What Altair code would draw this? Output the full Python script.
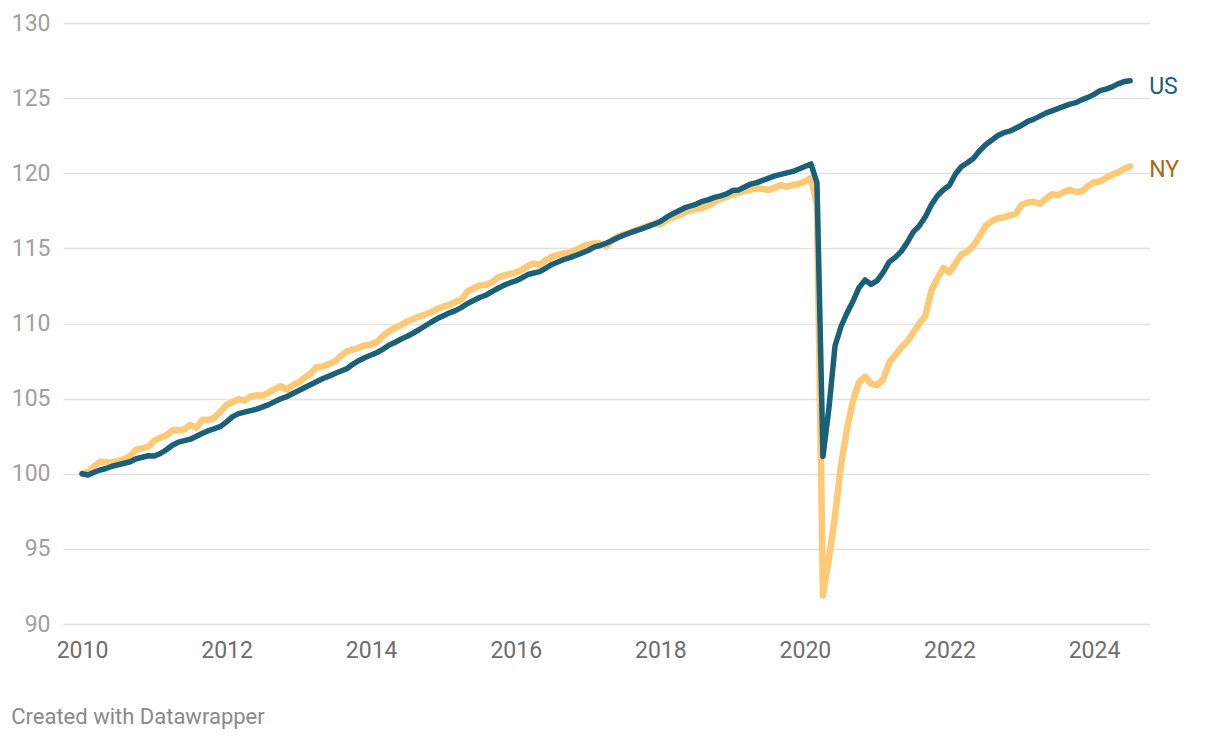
import altair as alt
import pandas as pd

years = list(range(2010, 2025))

us_values = [
    100.0, 99.92, 100.1, 100.25, 100.35, 100.5, 100.6, 100.7, 100.8, 101.0, 101.1, 101.2,
    101.18, 101.35, 101.6, 101.9, 102.1, 102.2, 102.3, 102.5, 102.7, 102.87, 103.0, 103.15,
    103.45, 103.8, 104.0, 104.1, 104.2, 104.3, 104.45, 104.6, 104.8, 104.99, 105.13, 105.34,
    105.54, 105.74, 105.94, 106.14, 106.34, 106.5, 106.67, 106.84, 107.0, 107.3, 107.54, 107.74,
    107.9, 108.07, 108.3, 108.57, 108.75, 108.97, 109.15, 109.37, 109.6, 109.85, 110.1, 110.33,
    110.52, 110.71, 110.86, 111.07, 111.33, 111.53, 111.73, 111.88, 112.1, 112.33, 112.54, 112.7,
    112.83, 113.03, 113.26, 113.36, 113.45, 113.69, 113.93, 114.09, 114.26, 114.39, 114.53, 114.69,
    114.86, 115.08, 115.19, 115.34, 115.52, 115.72, 115.89, 116.04, 116.18, 116.31, 116.46, 116.62,
    116.79, 117.06, 117.29, 117.49, 117.69, 117.82, 117.95, 118.13, 118.25, 118.39, 118.5, 118.62,
    118.85, 118.89, 119.08, 119.28, 119.38, 119.53, 119.68, 119.82, 119.92, 120.02, 120.12, 120.28,
    120.45, 120.62, 119.38, 101.15, 104.4, 108.5, 109.8, 110.7, 111.5, 112.4, 112.9, 112.6,
    112.85, 113.4, 114.1, 114.4, 114.8, 115.4, 116.1, 116.5, 117.1, 117.9, 118.5, 118.9,
    119.2, 119.95, 120.45, 120.7, 121.0, 121.5, 121.9, 122.2, 122.5, 122.7, 122.8, 123.0,
    123.2, 123.45, 123.6, 123.8, 124.0, 124.15, 124.3, 124.45, 124.6, 124.7, 124.9, 125.05,
    125.25, 125.5, 125.6, 125.75, 125.95, 126.1, 126.15,
]

ny_values = [
    100.0, 100.1, 100.5, 100.8, 100.76, 100.75, 100.85, 100.98, 101.18, 101.6, 101.7, 101.8,
    102.2, 102.4, 102.55, 102.9, 102.9, 102.95, 103.25, 103.05, 103.6, 103.58, 103.74, 104.14,
    104.58, 104.78, 104.96, 104.88, 105.14, 105.22, 105.2, 105.4, 105.64, 105.83, 105.6, 105.9,
    106.1, 106.4, 106.7, 107.1, 107.14, 107.3, 107.47, 107.84, 108.14, 108.27, 108.4, 108.54,
    108.6, 108.77, 109.18, 109.5, 109.73, 109.9, 110.15, 110.3, 110.47, 110.6, 110.77, 110.97,
    111.13, 111.24, 111.43, 111.6, 112.13, 112.33, 112.54, 112.56, 112.73, 113.06, 113.19, 113.29,
    113.39, 113.56, 113.83, 113.99, 113.89, 114.23, 114.44, 114.57, 114.67, 114.73, 114.89, 115.09,
    115.26, 115.32, 115.34, 115.13, 115.56, 115.8, 115.92, 116.06, 116.22, 116.36, 116.52, 116.62,
    116.6, 116.86, 117.05, 117.19, 117.37, 117.55, 117.62, 117.7, 117.85, 118.12, 118.29, 118.42,
    118.59, 118.71, 118.83, 118.92, 119.0, 118.95, 118.89, 119.05, 119.22, 119.1, 119.22, 119.28,
    119.45, 119.68, 117.9, 91.9, 94.4, 97.2, 100.6, 103.0, 104.9, 106.1, 106.46, 106.0,
    105.9, 106.3, 107.4, 107.9, 108.4, 108.8, 109.4, 110.0, 110.5, 112.2, 113.0, 113.7,
    113.4, 114.0, 114.6, 114.8, 115.2, 115.8, 116.5, 116.8, 117.0, 117.05, 117.2, 117.3,
    117.9, 118.05, 118.1, 117.95, 118.3, 118.6, 118.55, 118.75, 118.9, 118.75, 118.8, 119.15,
    119.4, 119.45, 119.7, 119.9, 120.05, 120.3, 120.45,
]

x_ticks = [2010, 2012, 2014, 2016, 2018, 2020, 2022, 2024]
y_ticks = [90, 95, 100, 105, 110, 115, 120, 125, 130]

US_COLOR = "#1a6079"
NY_COLOR = "#fec974"
NY_TEXT = "#a46d16"

t_vals = [2010 + i / 12 for i in range(len(us_values))]
df = pd.DataFrame({
    "t": t_vals * 2,
    "value": us_values + ny_values,
    "series": ["US"] * len(us_values) + ["NY"] * len(ny_values),
})
last = pd.DataFrame({
    "t": [t_vals[-1], t_vals[-1]],
    "value": [us_values[-1], ny_values[-1]],
    "series": ["US", "NY"],
})

x_enc = alt.X("t:Q", scale=alt.Scale(domain=[2009.737, 2024.774], nice=False, zero=False),
              axis=alt.Axis(values=x_ticks, format="d", title=None, grid=False, ticks=False,
                            domain=False, labelFontSize=23, labelColor="#6e6e6e",
                            labelPadding=15, labelFont="Roboto"))
y_enc = alt.Y("value:Q", scale=alt.Scale(domain=[90, 130], nice=False, zero=False),
              axis=alt.Axis(values=y_ticks, title=None, grid=True, gridColor="#e3e3e3",
                            gridWidth=1.5, ticks=False, domain=False, labelFontSize=23,
                            labelColor="#a0a0a0", labelPadding=13, labelFont="Roboto"))

base = alt.Chart(df)
ny_line = base.transform_filter("datum.series == 'NY'").mark_line(
    color=NY_COLOR, strokeWidth=6.5, strokeCap="round", strokeJoin="round"
).encode(x=x_enc, y=y_enc)
us_line = base.transform_filter("datum.series == 'US'").mark_line(
    color=US_COLOR, strokeWidth=5.5, strokeCap="round", strokeJoin="round"
).encode(x=x_enc, y=y_enc)

lab = alt.Chart(last)
us_lab = lab.transform_filter("datum.series == 'US'").mark_text(
    align="left", baseline="middle", dx=19, dy=6, fontSize=23, font="Roboto", color=US_COLOR
).encode(x="t:Q", y="value:Q", text="series:N")
ny_lab = lab.transform_filter("datum.series == 'NY'").mark_text(
    align="left", baseline="middle", dx=19, dy=4, fontSize=23, font="Roboto", color=NY_TEXT
).encode(x="t:Q", y="value:Q", text="series:N")

chart = alt.layer(ny_line, us_line, us_lab, ny_lab).properties(
    width=1087,
    height=601,
    autosize=alt.AutoSizeParams(type="none"),
    padding={"left": 55, "top": 15, "right": 58, "bottom": 106},
    title=alt.TitleParams(
        "Created with Datawrapper", orient="bottom", anchor="start", frame="bounds",
        fontSize=22, fontWeight="normal", color="#8a8a8a", font="Roboto", offset=45,
    ),
).configure_view(stroke=None)

chart.save("out.html", embed_options={"renderer": "svg", "actions": False})
